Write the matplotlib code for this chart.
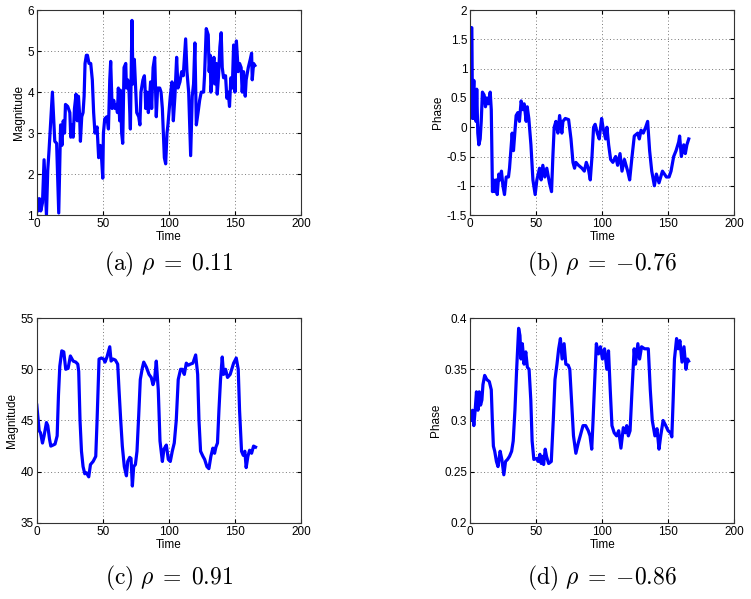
import matplotlib
matplotlib.use('Agg')
import matplotlib.pyplot as plt

plt.rcParams['font.family'] = ['Liberation Sans', 'DejaVu Sans']
plt.rcParams['mathtext.fontset'] = 'cm'

# (a) magnitude, rho = 0.11
t_a = [0, 1, 2, 3, 4.3, 5.5, 7.3, 8.3, 9.3, 11.8, 13.6, 15, 16.6, 18, 19, 20, 21, 21.7, 23.4, 25,
       25.7, 27, 27.5, 28.5, 29.7, 30.6, 31.5, 32.3, 33, 34, 35, 35.8, 36.5, 37.5, 38.3, 39.5, 40.8,
       42, 43, 44, 45.6, 46.8, 48, 48.8, 49.9, 50.4, 51.4, 53, 54.2, 55.2, 55.9, 57, 58.2, 59.2,
       60.2, 61, 61.7, 62.7, 63.2, 64.2, 65, 66, 67.3, 67.8, 68.8, 69.8, 70.8, 72, 72.8, 73.8, 74.8,
       75.6, 77.1, 78, 78.8, 80.3, 81.4, 81.9, 82.4, 83.4, 84.4, 85.4, 86.1, 86.9, 88, 89.2, 90.4,
       91.4, 93, 94, 95, 96.5, 97.5, 98.5, 99.2, 101, 102.3, 103.3, 104.5, 105.8, 106.8, 108.3,
       109.6, 110.8, 112.6, 113.6, 114.9, 116.4, 117.6, 118.6, 119.6, 120.7, 122, 123.2, 124.4,
       126.2, 126.9, 128.2, 129.7, 130.4, 131.2, 131.7, 133.2, 134, 134.7, 135.8, 136.5, 137.5,
       138.5, 139.5, 140.3, 141.3, 142.8, 143.8, 144.8, 145.8, 146.8, 147.9, 148.9, 149.9, 151,
       152.4, 153.4, 154.6, 155.4, 156.4, 157.7, 158.4, 160, 161.5, 162.5, 163, 164, 165]
mag_a = [1.4, 1.1, 1.4, 1.1, 1.3, 2.35, 1.0, 2.1, 2.6, 4.0, 2.8, 2.75, 1.05, 3.2, 2.7, 3.3, 3.0, 3.7,
         3.65, 3.5, 2.9, 3.2, 2.9, 3.6, 3.95, 3.3, 3.9, 3.5, 2.8, 3.4, 3.5, 3.9, 4.7, 4.9, 4.9, 4.7,
         4.7, 4.3, 3.5, 3.0, 3.15, 2.4, 2.7, 2.5, 1.9, 3.0, 3.35, 3.4, 3.1, 4.3, 4.75, 3.6, 3.8, 3.6,
         3.7, 3.5, 4.1, 3.3, 4.05, 3.0, 2.75, 4.6, 4.7, 4.1, 4.3, 4.0, 3.1, 5.75, 4.2, 4.8, 4.1,
         3.5, 3.4, 3.2, 4.0, 4.3, 4.4, 4.1, 3.6, 4.0, 3.5, 3.9, 4.25, 3.6, 4.6, 4.85, 3.4, 4.1,
         4.1, 4.0, 3.6, 2.4, 2.25, 3.0, 3.2, 3.9, 4.25, 3.3, 3.9, 4.85, 4.1, 4.25, 4.5, 4.4, 5.3,
         4.5, 4.0, 2.45, 3.9, 4.2, 5.2, 3.2, 3.5, 3.8, 4.0, 4.0, 4.4, 5.55, 5.4, 4.5, 4.9, 4.0,
         4.5, 4.85, 4.2, 4.7, 3.95, 4.4, 5.1, 5.45, 4.6, 4.35, 4.4, 3.85, 4.0, 3.65, 4.35, 4.1,
         5.15, 4.0, 5.25, 4.5, 4.7, 4.6, 4.0, 4.5, 3.9, 4.3, 4.6, 4.8, 4.95, 4.3, 4.7, 4.65]

# (b) phase, rho = -0.76
t_b = [0, 0.5, 1, 1.3, 1.8, 2.8, 3.3, 4, 4.5, 5, 5.8, 6.6, 7.6, 8.4, 9.3, 10.6, 11.6, 12.6, 13.7,
       15.2, 16, 16.9, 17.7, 18.7, 19.7, 20.5, 21.7, 22.7, 23.7, 24.8, 26, 27.3, 29, 29.8, 31.8,
       32.8, 34.8, 36.1, 37.3, 38.6, 39.9, 40.9, 42.4, 43.2, 44.4, 46, 47.5, 49.2, 50.5, 52.5,
       53.7, 55, 56.5, 58, 60, 61.6, 62.6, 63.6, 64.9, 66.4, 67.7, 69.4, 70.2, 72, 74.5, 76.3,
       77.8, 79, 80, 82, 84.6, 86.4, 87.9, 89.4, 90.9, 92.2, 93.4, 94.6, 96.2, 97.7, 99.5, 100.5,
       102.5, 103.5, 104.8, 106.3, 108, 110.1, 111.6, 113.4, 114.9, 116.7, 119.2, 120.7, 122.5,
       124.2, 126.8, 128, 129.3, 131, 132.8, 134.3, 135.8, 137.4, 139.4, 140.9, 142.9, 145.5,
       148.5, 150.5, 152, 154, 155.8, 157.8, 158.5, 159.8, 161.6, 162.8, 164, 165.4]
phase_b = [1.7, 1.3, 1.7, 1.7, 0.15, 0.8, 0.15, 0.6, 0.1, 0.65, -0.1, -0.3, -0.2, 0.1, 0.6, 0.55,
           0.35, 0.5, 0.4, 0.6, 0.3, -1.1, -0.9, -1.1, -0.9, -1.15, -0.8, -0.9, -0.75, -1.0,
           -1.15, -0.85, -0.85, -0.7, -0.1, -0.4, 0.2, 0.25, 0.1, 0.45, 0.3, 0.4, 0.1, 0.35, 0.15,
           -0.3, -0.9, -1.15, -0.9, -0.7, -0.9, -0.65, -0.85, -0.7, -0.95, -1.1, -0.5, 0.0, 0.1,
           -0.1, 0.2, -0.1, 0.1, 0.15, 0.13, -0.2, -0.6, -0.7, -0.6, -0.65, -0.7, -0.75, -0.6,
           -0.7, -0.9, -0.5, 0.0, 0.05, -0.1, -0.2, 0.15, 0.0, -0.2, 0.0, -0.3, -0.55, -0.6,
           -0.5, -0.65, -0.45, -0.75, -0.55, -0.75, -0.9, -0.5, -0.15, -0.1, -0.2, -0.05, -0.1,
           0.0, 0.1, -0.4, -0.75, -1.0, -0.8, -0.95, -0.75, -0.85, -0.85, -0.75, -0.5, -0.4,
           -0.25, -0.15, -0.5, -0.3, -0.45, -0.3, -0.2]

# (c) magnitude, rho = 0.91
t_c = [0, 1.8, 2.8, 4.3, 5.5, 7.3, 8.3, 9.6, 10.6, 12.3, 13.8, 15.4, 16.4, 17.4, 18.9, 20.4, 21.9,
       23.7, 25.4, 27.5, 29.5, 31, 31.7, 32.7, 33.8, 35, 36.3, 37.5, 39.3, 40.6, 42.6, 44.6, 45.6,
       47.1, 48.8, 50.6, 51.6, 53.1, 55.2, 56.2, 57.7, 59.4, 61.2, 62.2, 63.5, 64.7, 66.2, 67.8,
       68.8, 70.3, 71.3, 72.3, 73.3, 74.6, 75.8, 77.1, 78.3, 79.8, 80.9, 82.9, 84.9, 86.6, 87.9,
       89.1, 90.4, 91.9, 93.2, 95, 96.2, 98, 99.5, 101, 102.5, 104, 105.5, 107, 108.8, 110.1,
       111.6, 113.1, 114.6, 116.1, 118.1, 120.2, 121.7, 122.7, 123.9, 125.7, 127, 128.7, 130.2,
       131.7, 133.2, 134.5, 135.5, 136.7, 137.8, 139, 140.3, 141.3, 142.8, 144.3, 146.3, 148.9,
       150.9, 152.4, 153.4, 154.9, 156.2, 157.4, 158.4, 159.7, 161, 162.5, 164, 165.5]
mag_c = [46.5, 44, 43.8, 42.8, 43.5, 44.8, 44.5, 43.2, 42.5, 42.6, 42.7, 43.5, 47.5, 50.3, 51.8,
         51.7, 50, 50.1, 51.3, 50.8, 50.7, 50.5, 49.8, 45, 42, 40.5, 39.8, 39.9, 39.5, 40.7, 41,
         41.5, 45, 51, 51.1, 51, 50.7, 51.2, 52.2, 50.8, 51, 50.9, 50.5, 48, 45, 42.5, 40.5, 39.6,
         41, 41.4, 41.3, 38.6, 40.5, 40.7, 42, 45.5, 49, 50.1, 50.7, 50.2, 49.5, 49.2, 48.5, 49,
         50.8, 48, 43, 41, 42.2, 42.6, 41.2, 41, 42, 42.8, 45, 49, 50, 50, 49.5, 50.6, 50.4,
         50.5, 50.6, 51.4, 49.5, 45, 42, 41.5, 41.2, 40.5, 40.3, 41.5, 42.3, 41.8, 42.4, 42.8, 46,
         49, 51.2, 49.5, 50, 49.2, 49.5, 50.6, 51.1, 50, 46, 42, 41.6, 42, 40.4, 41.5, 42.1, 41.8,
         42.5, 42.4]

# (d) phase, rho = -0.86
t_d = [0, 0.8, 1.8, 2.8, 3.8, 4.8, 5.9, 6.9, 7.9, 8.9, 9.7, 11, 12.6, 14.5, 16, 16.8, 17.6, 18.6,
       19.9, 21.1, 22.7, 24, 25.5, 26.8, 28.3, 29.8, 31.4, 32.6, 33.9, 35.2, 36.7, 37.7, 38.5,
       39.5, 40.8, 42.1, 43.3, 44.6, 45.9, 46.9, 48.2, 50.3, 51.5, 52.8, 53.8, 54.8, 55.6, 56.8,
       57.8, 59.4, 61.4, 62.9, 64.2, 65.7, 67, 68.3, 69.6, 71.1, 72.4, 74.2, 75.4, 76.7, 78.2, 80,
       81.8, 83.3, 85.4, 87.4, 89.4, 90.7, 92, 93, 94.3, 95.5, 97.1, 98.6, 100.1, 101.7, 103.4,
       104.7, 106, 107.3, 109, 110.8, 112.4, 114.1, 115.9, 117.5, 118.5, 119.7, 121, 122.5, 124.1,
       125.1, 126.9, 128.2, 129.7, 132, 134.8, 136.3, 137.8, 139.8, 141.4, 142.9, 144.2, 146,
       148, 149.8, 151.6, 152.6, 153.6, 154.6, 156.2, 157.4, 158.7, 160.3, 161.8, 163.3, 164.5,
       165.3]
phase_d = [0.305, 0.3, 0.31, 0.295, 0.31, 0.328, 0.31, 0.328, 0.315, 0.32, 0.335, 0.344, 0.34,
           0.338, 0.33, 0.3, 0.275, 0.27, 0.26, 0.255, 0.27, 0.262, 0.247, 0.26, 0.262, 0.265,
           0.27, 0.28, 0.31, 0.35, 0.39, 0.383, 0.36, 0.375, 0.355, 0.367, 0.352, 0.35, 0.32,
           0.28, 0.262, 0.263, 0.26, 0.267, 0.258, 0.265, 0.257, 0.272, 0.265, 0.258, 0.26, 0.3,
           0.34, 0.355, 0.37, 0.38, 0.36, 0.375, 0.355, 0.354, 0.35, 0.32, 0.285, 0.268, 0.278,
           0.285, 0.295, 0.295, 0.29, 0.285, 0.272, 0.3, 0.34, 0.375, 0.365, 0.372, 0.36, 0.37,
           0.35, 0.368, 0.33, 0.295, 0.288, 0.285, 0.29, 0.273, 0.293, 0.288, 0.295, 0.285, 0.29,
           0.33, 0.37, 0.355, 0.375, 0.36, 0.372, 0.37, 0.37, 0.33, 0.3, 0.285, 0.292, 0.272,
           0.285, 0.3, 0.295, 0.29, 0.288, 0.284, 0.32, 0.36, 0.38, 0.37, 0.378, 0.357, 0.372,
           0.35, 0.36, 0.358]

panels = [
    (t_a, mag_a, 'Magnitude', (1, 6), [1, 2, 3, 4, 5, 6], r'$\mathrm{(a)}\ \rho\;=\;0.11$'),
    (t_b, phase_b, 'Phase', (-1.5, 2), [-1.5, -1, -0.5, 0, 0.5, 1, 1.5, 2], r'$\mathrm{(b)}\ \rho\;=\;{-0.76}$'),
    (t_c, mag_c, 'Magnitude', (35, 55), [35, 40, 45, 50, 55], r'$\mathrm{(c)}\ \rho\;=\;0.91$'),
    (t_d, phase_d, 'Phase', (0.2, 0.4), [0.2, 0.25, 0.3, 0.35, 0.4], r'$\mathrm{(d)}\ \rho\;=\;{-0.86}$'),
]
positions = [(0.049, 0.641), (0.626, 0.641), (0.049, 0.127), (0.626, 0.127)]
captions_y = [0.558, 0.558, 0.035, 0.035]

fig = plt.figure(figsize=(7.51, 5.99), dpi=100)
for (t, y, ylab, ylim, yt, cap), (x0, y0), cy in zip(panels, positions, captions_y):
    ax = fig.add_axes([x0, y0, 0.352, 0.342])
    ax.plot(t, y, color='#0000ff', lw=2.3)
    ax.set_xlim(0, 200)
    ax.set_ylim(*ylim)
    ax.set_xticks([0, 50, 100, 150, 200])
    ax.set_yticks(yt)
    ax.set_yticklabels([('%g' % v) for v in yt])
    ax.grid(True, linestyle=(0, (1, 2.5)), color='#777777', linewidth=0.7)
    ax.tick_params(direction='in', top=True, right=True, labelsize=8.5, length=3, pad=2)
    for s in ax.spines.values():
        s.set_linewidth(0.8)
        s.set_color('#333333')
    ax.set_xlabel('Time', fontsize=8.5, labelpad=1)
    ax.set_ylabel(ylab, fontsize=8.5, labelpad=2)
    fig.text(x0 + 0.176, cy, cap, ha='center', va='center', fontsize=17)

fig.savefig('out.png', dpi=100)
